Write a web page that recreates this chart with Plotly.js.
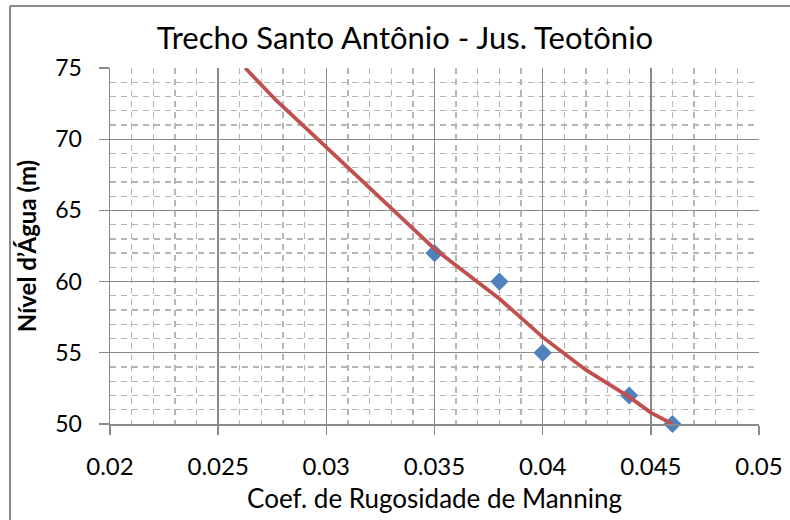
<!DOCTYPE html>
<html>
<head>
<meta charset="utf-8">
<script src="https://cdn.plot.ly/plotly-3.0.1.min.js"></script>
<style>html,body{margin:0;padding:0;background:#fff;}#chart{width:790px;height:520px;}</style>
</head>
<body>
<div id="chart"></div>
<script>
// Observed points
const coefManning = [0.035, 0.038, 0.040, 0.044, 0.046];
const nivelAgua = [62, 60, 55, 52, 50];
// Red curve
const curveX = [0.02625, 0.0277, 0.0296, 0.0331, 0.035, 0.038, 0.040, 0.042, 0.044, 0.045, 0.046];
const curveY = [75, 72.7, 70, 65, 62.3, 58.8, 56.1, 53.8, 51.9, 50.8, 50];

const xTickVals = [0.02, 0.025, 0.03, 0.035, 0.04, 0.045, 0.05];
const xTickText = ['0.02', '0.025', '0.03', '0.035', '0.04', '0.045', '0.05'];
const yTickVals = [50, 55, 60, 65, 70, 75];

const titleText = 'Trecho Santo Antônio - Jus. Teotônio';
const xTitle = 'Coef. de Rugosidade de Manning';
const yTitle = 'Nível d\u2019Água (m)';

const W = 790, H = 520;
const M = {l: 110, r: 31, t: 68, b: 96};
const pw = W - M.l - M.r, ph = H - M.t - M.b;
const px = v => (v - M.l) / pw;
const py = v => (H - M.b - v) / ph;

// minor grid positions (every 1/5 of a major step)
const xMinor = [], yMinor = [];
for (let i = 0; i <= 30; i++) if (i % 5) xMinor.push(Math.round((0.02 + i * 0.001) * 1e6) / 1e6);
for (let i = 0; i <= 25; i++) if (i % 5) yMinor.push(50 + i);

const FONT = 'Lato, "Open Sans", Arial, sans-serif';
const GRID = '#8a8a8a', MINOR = '#b5b5b5';

const traces = [
  {x: coefManning, y: nivelAgua, type: 'scatter', mode: 'markers',
   marker: {symbol: 'diamond', size: 14, color: '#4F81BD'}, showlegend: false, cliponaxis: false},
  {x: curveX, y: curveY, type: 'scatter', mode: 'lines',
   line: {color: '#C0504D', width: 3.8}, showlegend: false}
];

const layout = {
  width: W, height: H,
  margin: M,
  paper_bgcolor: '#fff', plot_bgcolor: '#fff',
  font: {family: FONT, color: '#000'},
  title: {text: titleText, font: {size: 31, family: FONT, color: '#000'},
          xref: 'container', yref: 'container', x: 405 / W, xanchor: 'center',
          y: 1 - 38 / H, yanchor: 'middle'},
  xaxis: {
    range: [0.02, 0.05], tickmode: 'array',
    tickvals: xTickVals, ticktext: xTickText,
    showgrid: true, gridcolor: GRID, gridwidth: 1.4,
    showline: true, linecolor: GRID, linewidth: 1.5,
    ticks: 'outside', ticklen: 9, tickcolor: GRID, tickwidth: 1.4,
    tickfont: {size: 24, family: FONT}, ticklabelstandoff: 12,
    zeroline: false,
    minor: {tickmode: 'array', tickvals: xMinor, ticks: '', showgrid: true, gridcolor: MINOR, gridwidth: 1.3, griddash: '6px,5px'},
    title: {text: xTitle, font: {size: 26, family: FONT}, standoff: 10}
  },
  yaxis: {
    range: [50, 75], tickmode: 'array', tickvals: yTickVals,
    showgrid: true, gridcolor: GRID, gridwidth: 1.4,
    showline: true, linecolor: GRID, linewidth: 1.5,
    ticks: 'outside', ticklen: 10, tickcolor: GRID, tickwidth: 1.4,
    tickfont: {size: 23, family: FONT}, ticklabelstandoff: 12,
    zeroline: false,
    minor: {tickmode: 'array', tickvals: yMinor, ticks: '', showgrid: true, gridcolor: MINOR, gridwidth: 1.3, griddash: '6px,5px'},
    title: {text: '<b>' + yTitle + '</b>', font: {size: 24, family: FONT}, standoff: 12}
  },
  shapes: [
    {type: 'line', xref: 'paper', yref: 'paper', x0: px(10), x1: px(10), y0: py(6), y1: py(H + 2),
     line: {color: GRID, width: 2}},
    {type: 'line', xref: 'paper', yref: 'paper', x0: px(10), x1: px(W + 2), y0: py(6), y1: py(6),
     line: {color: GRID, width: 2}}
  ]
};

Plotly.newPlot('chart', traces, layout, {displayModeBar: false, staticPlot: true});
</script>
</body>
</html>
